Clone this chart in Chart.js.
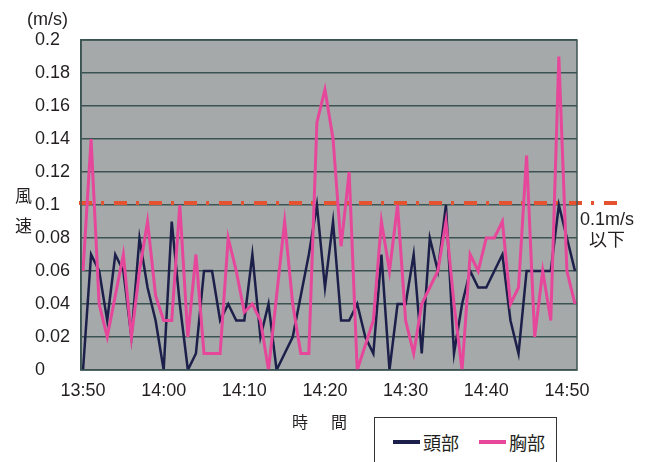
<!DOCTYPE html>
<html>
<head>
<meta charset="utf-8">
<script src="https://cdn.jsdelivr.net/npm/chart.js@4/dist/chart.umd.min.js"></script>
<style>
  html, body { margin: 0; padding: 0; background: #fff; overflow: hidden; }
  #wrap { position: relative; width: 651px; height: 462px; overflow: hidden;
          font-family: "Liberation Sans", "Noto Sans CJK JP", sans-serif; color: #231f20; }
  #c { position: absolute; left: 0; top: 0; }
  .t { position: absolute; white-space: nowrap; line-height: 1; }
  #legend { position: absolute; left: 374px; top: 417px; width: 183px; height: 60px;
            border: 1px solid #333; background: #fff; box-sizing: border-box;
            display: flex; align-items: center; padding: 0 0 10px 18px; gap: 20px; }
  .item { display: flex; align-items: center; font-size: 18px;
          font-family: "Noto Sans CJK JP", sans-serif; }
  .swatch { display: inline-block; width: 27px; height: 3.5px; margin-right: 3px; }
</style>
</head>
<body>
<div id="wrap">
  <canvas id="c" width="651" height="462"></canvas>
  <div class="t" style="left:27px; top:10px; font-size:18px;">(m/s)</div>
  <div class="t" style="left:15px; top:180px; font-size:17px; line-height:30px; font-family:'Noto Sans CJK JP',sans-serif;">風<br>速</div>
  <div class="t" style="left:292px; top:413px; font-size:16px; letter-spacing:3.5px; font-family:'Noto Sans CJK JP',sans-serif;">時　間</div>
  <div class="t" id="limitLabel" style="left:577px; top:210px; width:60px; text-align:center; font-size:18px; line-height:19px;">0.1m/s<br><span style="font-family:'Noto Sans CJK JP',sans-serif;">以下</span></div>
  <div id="legend"></div>
</div>
<script>
// Wind speed readings, one per minute from 13:50 (m/s)
const SERIES_NAMES = ['頭部', '胸部'];
const HEAD = [
  0, 0.07, 0.06, 0.03, 0.07, 0.06, 0.02, 0.08, 0.05, 0.03,
  0, 0.09, 0.04, 0, 0.01, 0.06, 0.06, 0.03, 0.04, 0.03,
  0.03, 0.07, 0.02, 0.04, 0, 0.01, 0.02, 0.045, 0.07, 0.1,
  0.05, 0.09, 0.03, 0.03, 0.04, 0.02, 0.01, 0.07, 0, 0.04,
  0.04, 0.07, 0.01, 0.08, 0.06, 0.1, 0.01, 0.04, 0.06, 0.05,
  0.05, 0.06, 0.07, 0.03, 0.01, 0.06, 0.06, 0.06, 0.06, 0.1,
  0.08, 0.06
];
const CHEST = [
  0.06, 0.14, 0.04, 0.02, 0.045, 0.07, 0.02, 0.06, 0.09, 0.045,
  0.03, 0.03, 0.1, 0.02, 0.07, 0.01, 0.01, 0.01, 0.08, 0.06,
  0.035, 0.04, 0.03, 0, 0.045, 0.09, 0.04, 0.01, 0.01, 0.15,
  0.17, 0.14, 0.075, 0.12, 0, 0.015, 0.03, 0.09, 0.06, 0.1,
  0.03, 0.01, 0.04, 0.05, 0.06, 0.09, 0.04, 0, 0.07, 0.06,
  0.08, 0.08, 0.09, 0.04, 0.05, 0.13, 0.02, 0.06, 0.03, 0.19,
  0.06, 0.04
];
// Time labels shown every ten readings
const TIME_LABELS = ['13:50', '14:00', '14:10', '14:20', '14:30', '14:40', '14:50'];
const LABEL_EVERY = 10;
// Guideline for the 0.1 m/s threshold
const LIMIT = 0.1;

const COLORS = { head: '#1c1f4a', chest: '#e6479a', grid: '#3b5453', plot: '#a5a9a9', limit: '#e5522f' };

const toPoints = arr => arr.map((v, i) => ({ x: i, y: v }));

const plotBackground = {
  id: 'plotBackground',
  beforeDraw(chart) {
    const { ctx, chartArea: a } = chart;
    ctx.save();
    ctx.fillStyle = COLORS.plot;
    ctx.fillRect(a.left, a.top, a.right - a.left, a.bottom - a.top);
    ctx.restore();
  },
  beforeDatasetsDraw(chart) {
    const { ctx, chartArea: a, scales } = chart;
    const y = scales.y.getPixelForValue(LIMIT) - 2;
    ctx.save();
    ctx.strokeStyle = COLORS.limit;
    ctx.lineWidth = 4;
    ctx.setLineDash([13, 9, 3, 10]);
    ctx.beginPath();
    ctx.moveTo(a.left - 2, y);
    ctx.lineTo(a.right + 43, y);
    ctx.stroke();
    ctx.restore();
  },
  afterDraw(chart) {
    const { ctx, chartArea: a } = chart;
    ctx.save();
    ctx.strokeStyle = COLORS.grid;
    ctx.lineWidth = 1.5;
    ctx.strokeRect(a.left, a.top, a.right - a.left, a.bottom - a.top);
    ctx.restore();
  }
};

const chart = new Chart(document.getElementById('c'), {
  type: 'line',
  data: {
    datasets: [
      { label: SERIES_NAMES[0], data: toPoints(HEAD), borderColor: COLORS.head,
        backgroundColor: COLORS.head, borderWidth: 2.5, order: 2 },
      { label: SERIES_NAMES[1], data: toPoints(CHEST), borderColor: COLORS.chest,
        backgroundColor: COLORS.chest, borderWidth: 3, order: 1 }
    ]
  },
  options: {
    responsive: false,
    animation: false,
    devicePixelRatio: 1,
    layout: { padding: { left: 35, right: 74, top: 40, bottom: 62 } },
    elements: { point: { radius: 0 }, line: { tension: 0 } },
    plugins: { legend: { display: false }, tooltip: { enabled: false } },
    scales: {
      x: {
        type: 'linear',
        min: -0.25,
        max: HEAD.length - 1 + 0.25,
        afterFit: s => { s.height = 30; },
        grid: { display: false, drawTicks: false },
        border: { display: false },
        ticks: {
          stepSize: LABEL_EVERY,
          includeBounds: false,
          autoSkip: false,
          maxRotation: 0,
          padding: 10,
          color: '#231f20',
          font: { family: 'Liberation Sans', size: 18 },
          callback: v => TIME_LABELS[v / LABEL_EVERY] ?? ''
        }
      },
      y: {
        min: 0,
        max: 0.2,
        afterFit: s => { s.width = 46; },
        grid: { color: COLORS.grid, lineWidth: 1.5, drawTicks: false },
        border: { color: COLORS.grid, width: 1.5 },
        ticks: {
          stepSize: 0.02,
          crossAlign: 'far',
          color: '#231f20',
          font: { family: 'Liberation Sans', size: 18 },
          callback: v => String(+v.toFixed(2))
        }
      }
    }
  },
  plugins: [plotBackground]
});

// Legend built from the chart's own datasets
const legendBox = document.getElementById('legend');
chart.data.datasets.forEach(ds => {
  const item = document.createElement('span');
  item.className = 'item';
  const sw = document.createElement('span');
  sw.className = 'swatch';
  sw.style.background = ds.borderColor;
  item.appendChild(sw);
  item.appendChild(document.createTextNode(ds.label));
  legendBox.appendChild(item);
});
</script>
</body>
</html>
